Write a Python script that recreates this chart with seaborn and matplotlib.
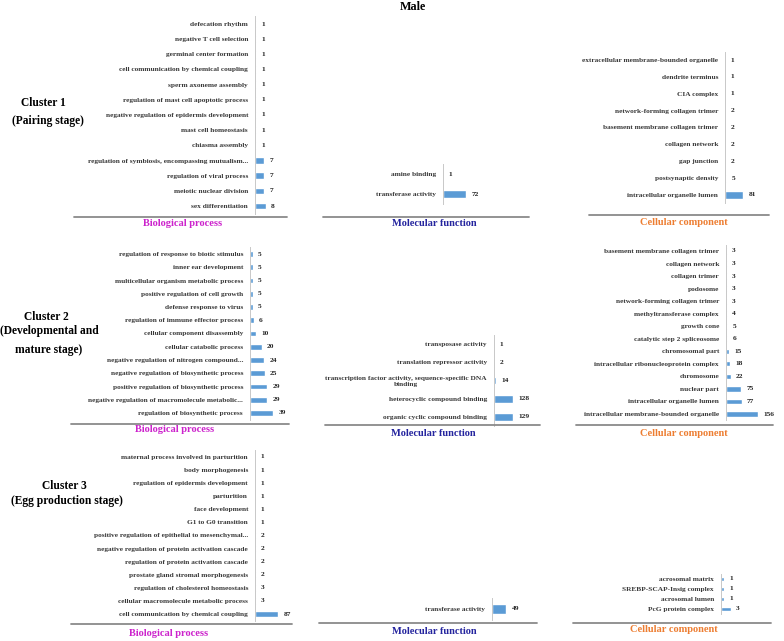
import matplotlib
matplotlib.use("Agg")
import matplotlib.pyplot as plt
from matplotlib.lines import Line2D
import seaborn as sns
import pandas as pd
import numpy as np

# ─────────────────────────────────────────────
# DATA (GO term counts, read top -> bottom)
# ─────────────────────────────────────────────
c1_bp_terms = ["defecation rhythm", "negative T cell selection", "germinal center formation",
               "cell communication by chemical coupling", "sperm axoneme assembly",
               "regulation of mast cell apoptotic process",
               "negative regulation of epidermis development", "mast cell homeostasis",
               "chiasma assembly", "regulation of symbiosis, encompassing mutualism...",
               "regulation of viral process", "meiotic nuclear division", "sex differentiation"]
c1_bp_counts = [1, 1, 1, 1, 1, 1, 1, 1, 1, 7, 7, 7, 8]

c1_mf_terms = ["amine binding", "transferase activity"]
c1_mf_counts = [1, 72]

c1_cc_terms = ["extracellular membrane-bounded organelle", "dendrite terminus", "CIA complex",
               "network-forming collagen trimer", "basement membrane collagen trimer",
               "collagen network", "gap junction", "postsynaptic density",
               "intracellular organelle lumen"]
c1_cc_counts = [1, 1, 1, 2, 2, 2, 2, 5, 81]

c2_bp_terms = ["regulation of response to biotic stimulus", "inner ear development",
               "multicellular organism metabolic process", "positive regulation of cell growth",
               "defense response to virus", "regulation of immune effector process",
               "cellular component disassembly", "cellular catabolic process",
               "negative regulation of nitrogen compound...",
               "negative regulation of biosynthetic process",
               "positive regulation of biosynthetic process",
               "negative regulation of macromolecule metabolic...",
               "regulation of biosynthetic process"]
c2_bp_counts = [5, 5, 5, 5, 5, 6, 10, 20, 24, 25, 29, 29, 39]

c2_mf_terms = ["transposase activity", "translation repressor activity",
               "transcription factor activity, sequence-specific DNA\nbinding",
               "heterocyclic compound binding", "organic cyclic compound binding"]
c2_mf_counts = [1, 2, 14, 128, 129]

c2_cc_terms = ["basement membrane collagen trimer", "collagen network", "collagen trimer",
               "podosome", "network-forming collagen trimer", "methyltransferase complex",
               "growth cone", "catalytic step 2 spliceosome", "chromosomal part",
               "intracellular ribonucleoprotein complex", "chromosome", "nuclear part",
               "intracellular organelle lumen", "intracellular membrane-bounded organelle"]
c2_cc_counts = [3, 3, 3, 3, 3, 4, 5, 6, 15, 18, 22, 75, 77, 156]

c3_bp_terms = ["maternal process involved in parturition", "body morphogenesis",
               "regulation of epidermis development", "parturition", "face development",
               "G1 to G0 transition", "positive regulation of epithelial to mesenchymal...",
               "negative regulation of protein activation cascade",
               "regulation of protein activation cascade",
               "prostate gland stromal morphogenesis",
               "regulation of cholesterol homeostasis",
               "cellular macromolecule metabolic process",
               "cell communication by chemical coupling"]
c3_bp_counts = [1, 1, 1, 1, 1, 1, 2, 2, 2, 2, 3, 3, 87]

c3_mf_terms = ["transferase activity"]
c3_mf_counts = [49]

c3_cc_terms = ["acrosomal matrix", "SREBP-SCAP-Insig complex", "acrosomal lumen",
               "PcG protein complex"]
c3_cc_counts = [1, 1, 1, 3]

cluster_labels = [["Cluster 1", "(Pairing stage)"],
                  ["Cluster 2", "(Developmental and", "mature stage)"],
                  ["Cluster 3", "(Egg production stage)"]]
section_titles = ["Biological process", "Molecular function", "Cellular component"]

# ─────────────────────────────────────────────
# STYLE / LAYOUT (pixel positions on a 784x641 canvas)
# ─────────────────────────────────────────────
W, H = 784, 641
BAR = "#5B9BD5"
TXT = "#3a3a3a"
TITLE_COLORS = ["#CC22CC", "#24249E", "#ED7D31"]

sns.set_theme(style="white")
plt.rcParams["font.family"] = ["Liberation Serif", "DejaVu Serif"]
plt.rcParams["font.weight"] = "bold"


def fx(px):
    return px / W


def fy(py):
    return 1 - py / H


# (terms, counts, axis x, first row y, last row y, px per unit)
panels = [
    (c1_bp_terms, c1_bp_counts, 255, 24, 206, 1.35),
    (c1_mf_terms, c1_mf_counts, 443, 174, 194, 0.32),
    (c1_cc_terms, c1_cc_counts, 725, 60, 195, 0.222),
    (c2_bp_terms, c2_bp_counts, 250, 254, 413, 0.59),
    (c2_mf_terms, c2_mf_counts, 494, 344, 417, 0.147),
    (c2_cc_terms, c2_cc_counts, 726, 251, 414, 0.205),
    (c3_bp_terms, c3_bp_counts, 255, 457, 614, 0.265),
    (c3_mf_terms, c3_mf_counts, 492, 609, 609, 0.29),
    (c3_cc_terms, c3_cc_counts, 721, 579, 609, 3.3),
]

# separator line (y, x0, x1) and title centre (x, y)
separators = [
    (217, 74, 287, 183, 224), (217, 323, 529, 434, 223), (215, 589, 769, 684, 222),
    (424, 71, 289, 175, 430), (425, 325, 540, 433, 433), (425, 576, 773, 684, 433),
    (624, 71, 292, 169, 633), (623, 319, 537, 434, 632), (623, 573, 771, 674, 630),
]

cluster_pos = [[(43, 103), (48, 121)],
               [(46, 317), (49, 331), (49, 350)],
               [(64, 486), (67, 501)]]

fig = plt.figure(figsize=(W / 100, H / 100), dpi=100)
fig.patch.set_facecolor("white")


def draw_panel(terms, counts, ax_x, y_first, y_last, scale):
    n = len(terms)
    step = (y_last - y_first) / (n - 1) if n > 1 else 22
    top, bottom = y_first - step / 2, y_last + step / 2
    width = 60
    ax = fig.add_axes([fx(ax_x), fy(bottom), width / W, (bottom - top) / H])
    ax.patch.set_alpha(0)
    df = pd.DataFrame({"term": terms, "count": counts})
    sns.barplot(data=df, x="count", y="term", ax=ax, color=BAR, saturation=1,
                width=0.42, errorbar=None, orient="h")
    ax.set_xlim(0, width / scale)
    ax.set_ylim(n - 0.5, -0.5)
    ax.set_xlabel("")
    ax.set_ylabel("")
    ax.set_xticks([])
    for s in ["top", "right", "bottom"]:
        ax.spines[s].set_visible(False)
    ax.spines["left"].set_color("#c8c8c8")
    ax.spines["left"].set_linewidth(0.7)
    ax.tick_params(axis="y", which="major", length=0, pad=5, labelsize=5.3, labelcolor=TXT)
    ax.set_yticks(np.arange(n + 1) - 0.5, minor=True)
    ax.tick_params(axis="y", which="minor", length=2.2, width=0.6, color="#c8c8c8")
    for lab in ax.get_yticklabels():
        lab.set_multialignment("center")
        lab.set_linespacing(1.35)
    for i, v in enumerate(counts):
        ax.annotate(str(v), xy=(v, i), xytext=(3.8, 0), textcoords="offset points",
                    va="center", ha="left", fontsize=5.3, color="#222222")
    return ax


for terms, counts, ax_x, y0, y1, scale in panels:
    draw_panel(terms, counts, ax_x, y0, y1, scale)

for k, (ly, x0, x1, tx, ty) in enumerate(separators):
    sec = k % 3
    fig.add_artist(Line2D([fx(x0), fx(x1)], [fy(ly), fy(ly)], color="#8a8a8a", lw=1.3))
    fig.text(fx(tx), fy(ty), section_titles[sec], ha="center", va="center",
             fontsize=7.5, color=TITLE_COLORS[sec])

for lines, pos in zip(cluster_labels, cluster_pos):
    for txt, (x, y) in zip(lines, pos):
        fig.text(fx(x), fy(y), txt, ha="center", va="center", fontsize=8.3, color="black")

fig.text(fx(413), fy(7), "Male", ha="center", va="center", fontsize=8.7, color="black")

fig.savefig("out.png", dpi=100)
plt.close(fig)
